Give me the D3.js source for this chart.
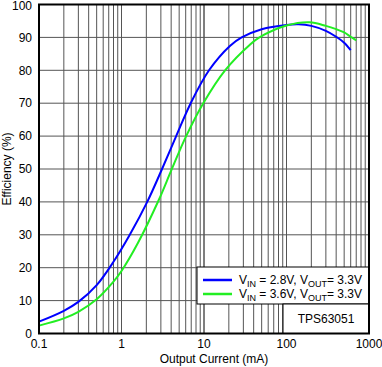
<!DOCTYPE html>
<html>
<head>
<meta charset="utf-8">
<script src="https://cdn.jsdelivr.net/npm/d3@7"></script>
<style>
  body { margin: 0; background: #fff; }
  svg { display: block; font-family: "Liberation Sans", Arial, sans-serif; }
</style>
</head>
<body>
<svg id="chart" width="382" height="367"></svg>
<script>
// efficiency curves: [output current mA, efficiency %]
const vin28 = [
  [0.1, 3.6], [0.2, 6.9], [0.3, 9.6], [0.5, 14.7], [0.8, 21.8], [1.26, 30],
  [2.05, 40], [3.1, 50], [4.6, 60], [6.9, 70], [11.5, 80], [20.6, 87.4],
  [28.6, 90], [50, 92.5], [100, 93.8], [140, 94.0], [200, 93.5], [300, 92.0],
  [400, 90.2], [500, 88.4], [600, 86.1]
];
const vin36 = [
  [0.1, 2.4], [0.2, 4.6], [0.3, 6.6], [0.5, 10.4], [0.79, 15.6], [1, 19],
  [1.58, 27.5], [2.82, 40.5], [4, 49.5], [6, 59.7], [9.8, 70], [18, 80],
  [36, 87.8], [47, 90], [100, 93.6], [190, 94.6], [300, 93.5], [400, 92.5],
  [500, 91.5], [600, 90.2], [700, 89.1]
];
const xTicks = [0.1, 1, 10, 100, 1000];
const yTicks = [0, 10, 20, 30, 40, 50, 60, 70, 80, 90, 100];
const seriesNames = ["2.8V", "3.6V"];
const seriesColors = ["#0000ff", "#22ee22"];
const deviceName = "TPS63051";

const width = 382, height = 367;
const margin = { top: 4.5, right: 13, bottom: 33.5, left: 39 };

const svg = d3.select("#chart");

const x = d3.scaleLog().domain([0.1, 1000]).range([margin.left, width - margin.right]);
const y = d3.scaleLinear().domain([0, 100]).range([height - margin.bottom, margin.top]);

// minor + major vertical grid
const minor = [];
for (let dec = 0.1; dec < 1000; dec *= 10) {
  for (let k = 1; k <= 10; k++) minor.push(+(dec * k).toPrecision(3));
}
const grid = svg.append("g").attr("stroke", "#555").attr("stroke-width", 1);
grid.selectAll("line.v").data(minor).join("line")
  .attr("class", "v")
  .attr("x1", (d) => x(d)).attr("x2", (d) => x(d))
  .attr("y1", y(0)).attr("y2", y(100));
grid.selectAll("line.h").data(yTicks).join("line")
  .attr("class", "h")
  .attr("x1", x(0.1)).attr("x2", x(1000))
  .attr("y1", (d) => y(d)).attr("y2", (d) => y(d));

// curves
const line = d3.line()
  .x((d) => x(d[0]))
  .y((d) => y(d[1]))
  .curve(d3.curveCatmullRom.alpha(0.5));

[vin28, vin36].forEach((data, i) => {
  svg.append("path")
    .datum(data)
    .attr("fill", "none")
    .attr("stroke", seriesColors[i])
    .attr("stroke-width", 2)
    .attr("d", line);
});

// legend box
const lg = svg.append("g");
lg.append("rect")
  .attr("x", 197).attr("y", 267)
  .attr("width", x(1000) - 197).attr("height", 37)
  .attr("fill", "#fff").attr("stroke", "#000").attr("stroke-width", 1);
seriesNames.forEach((name, i) => {
  const yy = 280 + i * 14;
  lg.append("line")
    .attr("x1", 203).attr("x2", 232)
    .attr("y1", yy).attr("y2", yy)
    .attr("stroke", seriesColors[i]).attr("stroke-width", 2.5);
  const t = lg.append("text")
    .attr("x", 239).attr("y", yy + 4)
    .attr("font-size", 12).attr("fill", "#000");
  t.append("tspan").text("V");
  t.append("tspan").attr("font-size", 9).attr("dy", 3).text("IN");
  t.append("tspan").attr("dy", -3).text(` = ${name}, V`);
  t.append("tspan").attr("font-size", 9).attr("dy", 3).text("OUT");
  t.append("tspan").attr("dy", -3).text("= 3.3V");
});

// device name box
lg.append("rect")
  .attr("x", 283).attr("y", 304)
  .attr("width", x(1000) - 283).attr("height", y(0) - 304)
  .attr("fill", "#fff").attr("stroke", "#000").attr("stroke-width", 1);
lg.append("text")
  .attr("x", (283 + x(1000)) / 2).attr("y", 323)
  .attr("text-anchor", "middle").attr("font-size", 12)
  .text(deviceName);

// frame
svg.append("rect")
  .attr("x", x(0.1)).attr("y", y(100))
  .attr("width", x(1000) - x(0.1)).attr("height", y(0) - y(100))
  .attr("fill", "none").attr("stroke", "#000").attr("stroke-width", 2);

// tick labels
svg.append("g").selectAll("text").data(yTicks).join("text")
  .attr("x", 32).attr("y", (d) => Math.max(y(d), 5.5)).attr("dy", "0.35em")
  .attr("text-anchor", "end").attr("font-size", 12)
  .text((d) => d);
svg.append("g").selectAll("text").data(xTicks).join("text")
  .attr("x", (d) => x(d)).attr("y", 348)
  .attr("text-anchor", "middle").attr("font-size", 12)
  .text((d) => d);

// axis titles
svg.append("text")
  .attr("x", 214).attr("y", 363)
  .attr("text-anchor", "middle").attr("font-size", 12)
  .text("Output Current (mA)");
svg.append("text")
  .attr("transform", `translate(11, ${(y(0) + y(100)) / 2}) rotate(-90)`)
  .attr("text-anchor", "middle").attr("font-size", 12)
  .text("Efficiency (%)");
</script>
</body>
</html>
